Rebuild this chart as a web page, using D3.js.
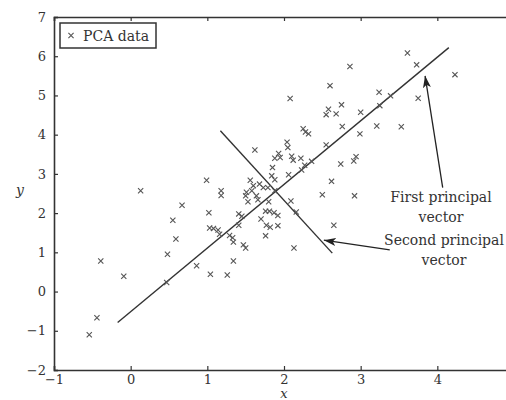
<!DOCTYPE html>
<html>
<head>
<meta charset="utf-8">
<script src="https://cdn.jsdelivr.net/npm/d3@7"></script>
<style>
  body { margin: 0; background: #fff; }
  svg { display: block; }
  text { font-family: "DejaVu Serif", "Liberation Serif", serif; fill: #333; }
</style>
</head>
<body>
<div id="chart"></div>
<script>
// PCA sample points (x, y)
var pointsX = [-0.54, -0.44, -0.39, -0.09, 0.13, 0.48, 0.47, 0.55, 0.59, 0.67, 0.86, 1.02, 1.03, 1.08, 1.14, 1.16,
    1.04, 1.26, 1.29, 1.33, 1.34, 1.34, 1.41, 1.45, 1.41, 1.47, 1.50, 1.53, 1.70, 0.99, 1.18, 1.18, 1.56, 1.60,
    1.58, 1.68, 1.73, 1.51, 1.64, 1.66, 1.80, 2.09, 2.16, 1.76, 1.81, 1.87, 1.92, 1.92, 1.82, 1.77, 1.76, 2.13,
    2.65, 1.62, 1.85, 1.84, 1.88, 2.06, 2.23, 2.04, 2.05, 1.93, 1.88, 2.10, 2.12, 2.22, 2.36, 2.25, 2.28, 2.32,
    2.55, 2.08, 2.60, 2.58, 2.55, 2.68, 2.75, 2.86, 3.00, 2.76, 2.99, 2.74, 2.94, 2.91, 2.62, 2.50, 2.92, 3.24,
    3.39, 3.25, 3.21, 3.53, 3.61, 3.73, 3.75, 4.23, 1.79, 1.88, 2.27, 1.95, 1.50];
var pointsY = [-1.10, -0.67, 0.78, 0.39, 2.57, 0.95, 0.23, 1.82, 1.34, 2.20, 0.66, 2.01, 1.62, 1.61, 1.57, 1.46,
    0.44, 0.42, 1.43, 1.37, 1.26, 0.78, 1.98, 1.92, 1.69, 1.19, 1.11, 2.29, 1.85, 2.84, 2.57, 2.45, 2.84, 2.70,
    2.57, 2.74, 2.65, 2.53, 2.44, 2.34, 2.29, 2.31, 2.03, 2.05, 2.05, 2.01, 1.94, 1.68, 1.64, 1.69, 1.42, 1.11,
    1.69, 3.61, 3.16, 2.95, 2.85, 2.98, 3.10, 3.81, 3.67, 3.52, 3.40, 3.45, 3.35, 3.40, 3.32, 4.15, 4.07, 4.02,
    3.74, 4.92, 5.25, 4.65, 4.51, 4.53, 4.76, 5.74, 4.57, 4.21, 4.02, 3.25, 3.44, 3.33, 2.81, 2.47, 2.44, 5.08,
    4.99, 4.74, 4.22, 4.20, 6.08, 5.78, 4.93, 5.53, 2.65, 2.57, 3.22, 3.42, 2.44];

// principal vectors, drawn as segments (start, end)
var firstVector = [[-0.17, -0.79], [4.15, 6.22]];
var secondVector = [[1.17, 4.10], [2.63, 0.98]];

// annotation arrows (tail, tip) and labels
var firstArrow = [[4.07, 2.65], [3.84, 5.50]];
var secondArrow = [[3.38, 1.06], [2.52, 1.31]];
var firstLabel = ["First principal", "vector"];
var secondLabel = ["Second principal", "vector"];

var xTicks = [-1, 0, 1, 2, 3, 4];
var yTicks = [-2, -1, 0, 1, 2, 3, 4, 5, 6, 7];

var width = 506, height = 400;

var svg = d3.select("#chart").append("svg")
    .attr("width", width)
    .attr("height", height);

// x runs to 5, past the right edge, as in the cropped original
var x = d3.scaleLinear().domain([-1, 5]).range([54, 514]);
var y = d3.scaleLinear().domain([-2, 7]).range([370, 17]);

var points = pointsX.map(function(d, i) { return {x: d, y: pointsY[i]}; });

// arrow head
svg.append("defs").append("marker")
    .attr("id", "head")
    .attr("viewBox", "0 0 12 8")
    .attr("refX", 12).attr("refY", 4)
    .attr("markerWidth", 12).attr("markerHeight", 8)
    .attr("markerUnits", "userSpaceOnUse")
    .attr("orient", "auto")
    .append("path")
    .attr("d", "M0,0 L12,4 L0,8 L3,4 Z")
    .style("fill", "#222");

var minus = function(d) { return d < 0 ? "\u2212" + Math.abs(d) : d; };

// axes (ticks point inward)
svg.append("g")
    .attr("transform", "translate(0," + y(-2) + ")")
    .call(d3.axisBottom(x).tickValues(xTicks).tickSize(-4).tickPadding(5).tickFormat(minus));

svg.append("g")
    .attr("transform", "translate(0," + y(7) + ")")
    .call(d3.axisTop(x).tickValues(xTicks).tickSize(-4).tickFormat(""));

svg.append("g")
    .attr("transform", "translate(" + x(-1) + ",0)")
    .call(d3.axisLeft(y).tickValues(yTicks).tickSize(-4).tickPadding(8).tickFormat(minus));

svg.selectAll(".domain").style("stroke", "#333").style("stroke-width", 1.6);
svg.selectAll(".tick line").style("stroke", "#333").style("stroke-width", 1.2);
svg.selectAll(".tick text")
    .style("font-family", "'DejaVu Serif', serif")
    .style("font-size", "13px")
    .style("fill", "#333");

// axis labels
svg.append("text")
    .attr("x", 20).attr("y", 195)
    .attr("text-anchor", "middle")
    .style("font-style", "italic")
    .style("font-size", "14px")
    .text("y");

svg.append("text")
    .attr("x", x(2)).attr("y", 398)
    .attr("text-anchor", "middle")
    .style("font-style", "italic")
    .style("font-size", "13px")
    .text("x");

// principal vectors
var line = d3.line()
    .x(function(d) { return x(d[0]); })
    .y(function(d) { return y(d[1]); });

svg.selectAll(".pv")
    .data([firstVector, secondVector])
    .enter().append("path")
    .attr("class", "pv")
    .attr("d", line)
    .style("fill", "none")
    .style("stroke", "#333")
    .style("stroke-width", 1.4);

// data markers
var s = 2.6;
function cross(cx, cy) {
    return "M" + (cx - s) + "," + (cy - s) + "L" + (cx + s) + "," + (cy + s) +
        "M" + (cx - s) + "," + (cy + s) + "L" + (cx + s) + "," + (cy - s);
}

svg.append("g").selectAll("path")
    .data(points)
    .enter().append("path")
    .attr("d", function(d) { return cross(x(d.x), y(d.y)); })
    .style("stroke", "#555")
    .style("stroke-width", 1.1)
    .style("fill", "none");

// annotation arrows
svg.selectAll(".arrow")
    .data([firstArrow, secondArrow])
    .enter().append("path")
    .attr("class", "arrow")
    .attr("d", line)
    .attr("marker-end", "url(#head)")
    .style("fill", "none")
    .style("stroke", "#222")
    .style("stroke-width", 1.3);

// annotation labels
function addLabel(lines, cx, baseline) {
    svg.append("text")
        .attr("text-anchor", "middle")
        .style("font-size", "14px")
        .selectAll("tspan")
        .data(lines)
        .enter().append("tspan")
        .attr("x", cx)
        .attr("y", function(d, i) { return baseline + i * 20; })
        .text(function(d) { return d; });
}
addLabel(firstLabel, 441, 202);
addLabel(secondLabel, 444, 245);

// legend
var legend = svg.append("g");
legend.append("rect")
    .attr("x", 60).attr("y", 23)
    .attr("width", 96).attr("height", 25)
    .style("fill", "#fff")
    .style("stroke", "#333")
    .style("stroke-width", 1.5);
legend.append("path")
    .attr("d", cross(71, 35.5))
    .style("stroke", "#555")
    .style("stroke-width", 1.1);
legend.append("text")
    .attr("x", 83).attr("y", 40.5)
    .style("font-size", "14px")
    .text("PCA data");
</script>
</body>
</html>
